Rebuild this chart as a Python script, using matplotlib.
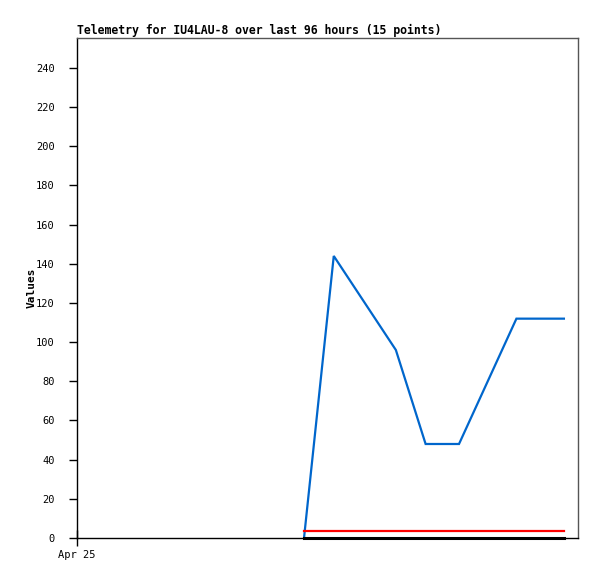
import matplotlib
matplotlib.use("Agg")
import matplotlib.pyplot as plt

# data (hours since start of 96h window)
blue_x = [43.5, 49.2, 61.1, 66.8, 73.2, 84.2, 93.3]
blue_y = [0, 144, 96, 48, 48, 112, 112]
red_x = [43.5, 93.3]
red_y = [3.7, 3.7]
black_x = [43.5, 93.3]
black_y = [0, 0]
yticks = list(range(0, 241, 20))
xtick_pos = [0]
xtick_labels = ["Apr 25"]
title = "Telemetry for IU4LAU-8 over last 96 hours (15 points)"

plt.rcParams['font.family'] = ['DejaVu Sans Mono']
fig = plt.figure(figsize=(5.97, 5.79), dpi=100)
W, H = 597, 579
ax = fig.add_axes([77 / W, 1 - 538 / H, (578 - 77) / W, (538 - 38) / H])
ax.set_xlim(0, 96)
ax.set_ylim(0, 255.3)

ax.plot(blue_x, blue_y, color='#0066CC', lw=1.6, solid_joinstyle='miter', zorder=3)
ax.plot(red_x, red_y, color='#FF0000', lw=1.6, zorder=3)
ax.plot(black_x, black_y, color='#000000', lw=2.2, zorder=4, clip_on=False)

ax.set_yticks(yticks)
ax.set_yticklabels([str(v) for v in yticks], fontsize=7.5)
ax.set_xticks(xtick_pos)
ax.set_xticklabels(xtick_labels, fontsize=7.5)
ax.tick_params(axis='y', direction='out', length=6, width=1, pad=10)
ax.tick_params(axis='x', direction='inout', length=12, width=1, pad=3)

for s in ['left', 'bottom']:
    ax.spines[s].set_color('black')
    ax.spines[s].set_linewidth(1)
for s in ['top', 'right']:
    ax.spines[s].set_color('#555555')
    ax.spines[s].set_linewidth(1)

ax.set_ylabel("Values", fontsize=8, fontweight='bold')
ax.yaxis.set_label_coords(-(77 - 37) / 501, 0.5)
ax.set_title(title, fontsize=8.3, fontweight='bold', loc='left', pad=3)

fig.savefig("out.png", dpi=100)
